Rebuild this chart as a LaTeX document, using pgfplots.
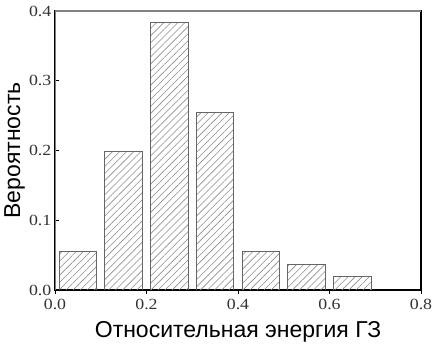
\documentclass[border=0pt]{standalone}
\usepackage{pgfplots}
\pgfplotsset{compat=1.18}
\usepackage{fontspec}
\setmainfont{Liberation Serif}
\newfontfamily\tickfont{Liberation Serif}[FakeStretch=1.15]
\newfontfamily\labelfont{Liberation Sans}
\usetikzlibrary{patterns.meta}
\begin{document}
\begin{tikzpicture}
\begin{axis}[
  scale only axis,
  width=366pt, height=279pt,
  xmin=0, xmax=0.8, ymin=0, ymax=0.4,
  xtick={0,0.2,0.4,0.6,0.8},
  ytick={0,0.1,0.2,0.3,0.4},
  xtick pos=bottom, ytick pos=left,
  tick align=inside,
  major tick length=4pt,
  tick style={black, line width=0.6pt},
  /pgf/number format/assume math mode=true,
  /pgf/number format/.cd, fixed, fixed zerofill, precision=1, /pgfplots/.cd,
  ticklabel style={font=\tickfont\fontsize{15.5}{15.5}\selectfont, text=black!80, inner xsep=0.5pt, inner ysep=1pt},
  yticklabel style={xshift=-3pt},
  xticklabel style={yshift=-4pt},
  xlabel={\labelfont\fontsize{23}{23}\selectfont Относительная энергия ГЗ},
  ylabel={\labelfont\fontsize{23}{23}\selectfont Вероятность},
  xlabel style={yshift=-7pt},
  ylabel style={yshift=0pt},
  axis line style={black, line width=1.1pt},
  ybar, bar width=0.082,
]
\addplot[draw=black!60, line width=0.9pt, pattern={Lines[angle=45,distance=5pt,line width=0.6pt]}, pattern color=black!45]
  coordinates {(0.05,0.055) (0.15,0.199) (0.25,0.383) (0.35,0.255) (0.45,0.055) (0.55,0.036) (0.65,0.019)};
\draw[gray, line width=1.3pt] (rel axis cs:0,0) -- (rel axis cs:0,1) -- (rel axis cs:1,1);
\coordinate (bl) at (rel axis cs:0,0);
\coordinate (tr) at (rel axis cs:1,1);
\end{axis}
\pgfresetboundingbox
\path ([xshift=-55pt,yshift=-59pt]bl) rectangle ([xshift=11pt,yshift=11pt]tr);
\end{tikzpicture}
\end{document}
